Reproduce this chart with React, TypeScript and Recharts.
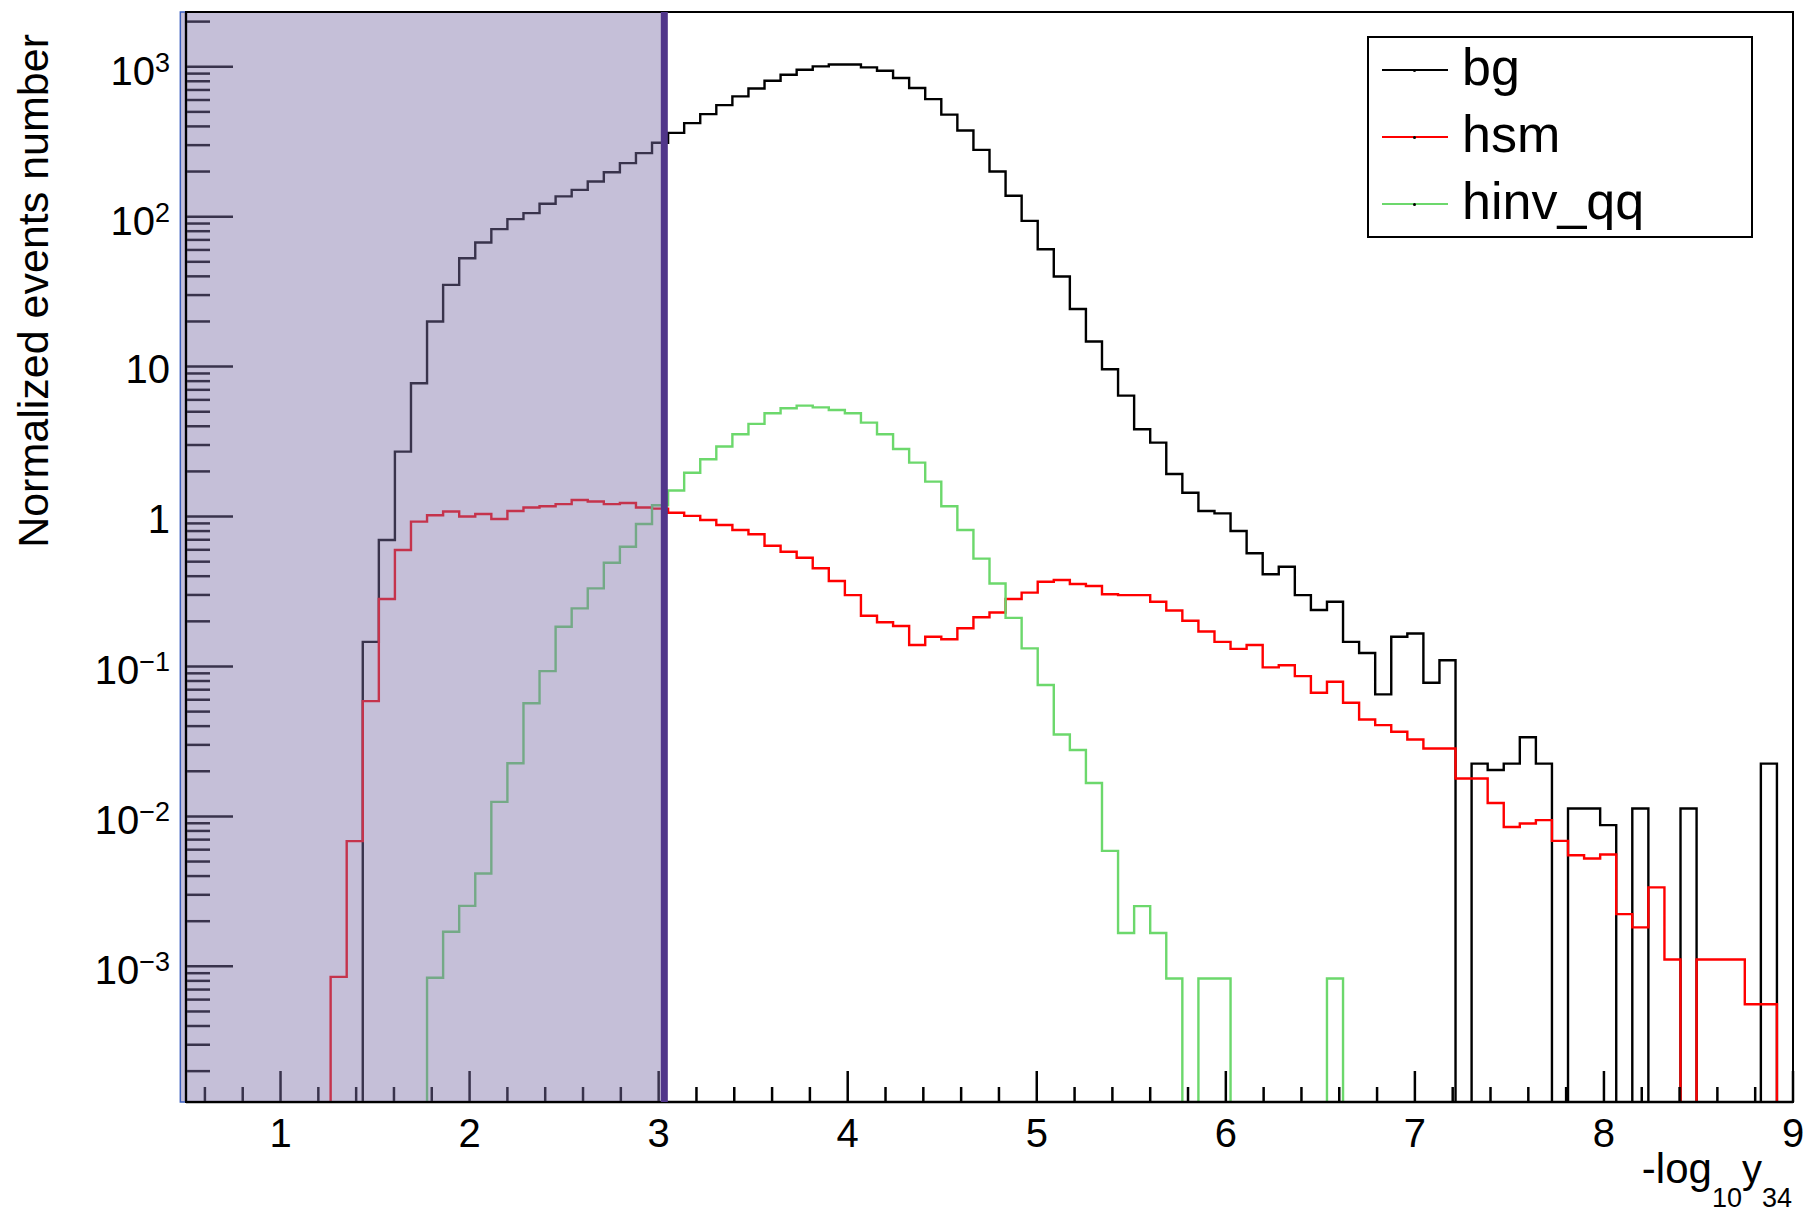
import React from 'react';
import { ComposedChart, Line, XAxis, YAxis, ReferenceArea, ReferenceLine, Legend } from 'recharts';

// ---- histogram definition ----
const X_MIN = 0.5;
const X_MAX = 9;
const BIN_WIDTH = 0.085;
const Y_MIN = 1.245e-4;
const Y_MAX = 2318;
const CUT_X = 3.03;

// ---- bin contents (100 bins of width 0.085 from 0.5 to 9) ----
const BG = [
  0, 0, 0, 0, 0, 0, 0, 0, 0, 0,
  0, 0.146, 0.697, 2.71, 7.74, 20.0, 35.1, 52.8, 67.3, 82.6,
  96.3, 105.6, 122, 136.5, 151, 171.8, 198, 227.6, 265.4, 311,
  362, 421, 483, 555, 634, 716, 807, 885, 955, 1005,
  1036, 1036, 990, 940, 841, 721, 608, 479, 376, 279,
  200, 138, 93.8, 60.7, 39.9, 24.2, 14.7, 9.6, 6.4, 3.82,
  3.11, 1.92, 1.44, 1.09, 1.05, 0.8, 0.569, 0.412, 0.462, 0.299,
  0.238, 0.27, 0.146, 0.123, 0.0651, 0.158, 0.166, 0.0778, 0.11, 0,
  0.0225, 0.0204, 0.0225, 0.0337, 0.0225, 0, 0.0113, 0.0113, 0.00875, 0,
  0.0113, 0, 0, 0.0113, 0, 0, 0, 0, 0.0225, 0,
];

const HSM = [
  0, 0, 0, 0, 0, 0, 0, 0, 0, 0.00085,
  0.00684, 0.0587, 0.282, 0.598, 0.925, 1.02, 1.08, 1.0, 1.04, 0.964,
  1.09, 1.15, 1.17, 1.21, 1.29, 1.26, 1.21, 1.23, 1.15, 1.13,
  1.06, 1.01, 0.949, 0.879, 0.813, 0.762, 0.639, 0.582, 0.531, 0.452,
  0.372, 0.299, 0.218, 0.197, 0.186, 0.139, 0.158, 0.152, 0.18, 0.213,
  0.229, 0.282, 0.311, 0.367, 0.377, 0.355, 0.344, 0.303, 0.299, 0.299,
  0.27, 0.236, 0.202, 0.171, 0.146, 0.131, 0.139, 0.0986, 0.102, 0.0862,
  0.0668, 0.079, 0.0573, 0.0443, 0.0406, 0.0367, 0.0326, 0.0284, 0.0284, 0.0179,
  0.0179, 0.0123, 0.0085, 0.00897, 0.00944, 0.00687, 0.00551, 0.00524, 0.00557, 0.00223,
  0.00182, 0.00336, 0.00111, 0, 0.00111, 0.00111, 0.00111, 0.000558, 0.000558, 0,
];

const HINV_QQ = [
  0, 0, 0, 0, 0, 0, 0, 0, 0, 0,
  0, 0, 0, 0, 0, 0.00084, 0.0017, 0.00253, 0.00416, 0.0125,
  0.0226, 0.0568, 0.0931, 0.184, 0.244, 0.332, 0.492, 0.629, 0.892, 1.19,
  1.49, 1.96, 2.41, 2.93, 3.54, 4.15, 4.89, 5.28, 5.49, 5.35,
  5.14, 4.89, 4.23, 3.54, 2.82, 2.29, 1.71, 1.17, 0.813, 0.524,
  0.358, 0.211, 0.132, 0.0752, 0.0352, 0.0277, 0.0167, 0.00589, 0.00167, 0.00252,
  0.00167, 0.00083, 0, 0.00083, 0.00083, 0, 0, 0, 0, 0,
  0, 0.00083, 0, 0, 0, 0, 0, 0, 0, 0,
  0, 0, 0, 0, 0, 0, 0, 0, 0, 0,
  0, 0, 0, 0, 0, 0, 0, 0, 0, 0,
];

const SERIES_NAMES = ['bg', 'hsm', 'hinv_qq'];
const SERIES_COLORS = ['#000000', '#ff0000', '#6cd86c'];
const SERIES_VALUES = [BG, HSM, HINV_QQ];

// ---- tick labels ----
const X_LABELS = [1, 2, 3, 4, 5, 6, 7, 8, 9];
const X_MINOR_STEP = 0.2;
const Y_DECADES = [-4, -3, -2, -1, 0, 1, 2, 3];
const Y_MINOR_MULT = [2, 3, 4, 5, 6, 7, 8, 9];

const FONT = "'Liberation Sans', Arial, Helvetica, sans-serif";

// build tick lists
const X_TICKS: number[] = [];
for (let k = 1; k <= Math.round((X_MAX - X_MIN) / X_MINOR_STEP); k++) {
  X_TICKS.push(Math.round((X_MIN + 0.1 + (k - 1) * X_MINOR_STEP) * 1000) / 1000);
}
const Y_TICKS: number[] = [];
for (const d of Y_DECADES) {
  const base = Math.pow(10, d);
  if (base >= Y_MIN && base <= Y_MAX) Y_TICKS.push(base);
  for (const m of Y_MINOR_MULT) {
    const v = m * base;
    if (v >= Y_MIN && v <= Y_MAX) Y_TICKS.push(v);
  }
}

// build histogram rows (step edges)
const ZERO_FLOOR = Y_MIN / 100;
const NBINS = BG.length;
const rows = Array.from({ length: NBINS + 1 }, (_, i) => {
  const row: Record<string, number> = { x: Math.round((X_MIN + BIN_WIDTH * i) * 10000) / 10000 };
  SERIES_NAMES.forEach((name, s) => {
    const v = SERIES_VALUES[s][Math.min(i, NBINS - 1)];
    row[name] = v > 0 ? v : ZERO_FLOOR;
  });
  return row;
});

const isMajorX = (v: number) => X_LABELS.some((l) => Math.abs(l - v) < 1e-6);

const renderXTick = (props: any) => {
  const { x, y, payload } = props;
  const v = payload.value as number;
  const major = isMajorX(v);
  return (
    <g>
      <line x1={x} x2={x} y1={y} y2={y - (major ? 31 : 15)} stroke="#000" strokeWidth={2.5} />
      {major && (
        <text x={x} y={y + 45} textAnchor="middle" fontSize={40} fontFamily={FONT} fill="#000">
          {Math.round(v)}
        </text>
      )}
    </g>
  );
};

const renderYTick = (props: any) => {
  const { x, y, payload } = props;
  const v = payload.value as number;
  const e = Math.log10(v);
  const major = Math.abs(e - Math.round(e)) < 1e-6;
  const ex = Math.round(e);
  let label: React.ReactNode = null;
  if (major) {
    if (ex === 0 || ex === 1) {
      label = (
        <text x={x - 16} y={y + 16} textAnchor="end" fontSize={40} fontFamily={FONT} fill="#000">
          {ex === 0 ? '1' : '10'}
        </text>
      );
    } else {
      label = (
        <text x={x - 16} y={y + 18} textAnchor="end" fontSize={40} fontFamily={FONT} fill="#000">
          10
          <tspan dy={-13} fontSize={27}>
            {ex < 0 ? '\u2212' + Math.abs(ex) : String(ex)}
          </tspan>
        </text>
      );
    }
  }
  return (
    <g>
      <line x1={x} x2={x + (major ? 47 : 24)} y1={y} y2={y} stroke="#000" strokeWidth={2.5} />
      {label}
    </g>
  );
};

const renderXTitle = () => (
  <text x={1792} y={1183} textAnchor="end" fontSize={42} fontFamily={FONT} fill="#000">
    -log
    <tspan dy={24} fontSize={27}>10</tspan>
    <tspan dy={-24} fontSize={40}>y</tspan>
    <tspan dy={24} fontSize={27}>34</tspan>
  </text>
);

const renderYTitle = () => (
  <text
    x={0}
    y={0}
    transform="translate(48,34) rotate(-90)"
    textAnchor="end"
    fontSize={43}
    fontFamily={FONT}
    fill="#000"
  >
    Normalized events number
  </text>
);

const renderLegend = (props: any) => {
  const raw = (props && props.payload) || [];
  const items = [...raw].sort(
    (a: any, b: any) => SERIES_NAMES.indexOf(a.value) - SERIES_NAMES.indexOf(b.value)
  );
  return (
    <div
      style={{
        position: 'relative',
        width: 386,
        height: 202,
        boxSizing: 'border-box',
        border: '2px solid #000',
        background: '#fff',
        fontFamily: FONT,
      }}
    >
      {items.map((it: any, k: number) => {
        const cy = 32 + 67 * k;
        return (
          <React.Fragment key={it.value}>
            <div style={{ position: 'absolute', left: 13, top: cy - 1.25, width: 66, height: 2.5, background: it.color }} />
            <div style={{ position: 'absolute', left: 44, top: cy - 1.5, width: 3, height: 3, background: '#000', borderRadius: 2 }} />
            <div
              style={{
                position: 'absolute',
                left: 93,
                top: cy - 33,
                fontSize: 52,
                lineHeight: '60px',
                color: '#000',
                whiteSpace: 'nowrap',
              }}
            >
              {it.value}
            </div>
          </React.Fragment>
        );
      })}
    </div>
  );
};

const CHART_MARGIN = { top: 12, right: 19, bottom: 0, left: 0 };

export default function App() {
  return (
    <div style={{ position: 'absolute', left: 0, top: 0, width: 1812, height: 1213, background: '#fff' }}>
      <div style={{ position: 'absolute', left: 0, top: 0 }}>
        <ComposedChart width={1812} height={1213} data={rows} margin={CHART_MARGIN}>
          <XAxis
            dataKey="x"
            type="number"
            domain={[X_MIN, X_MAX]}
            ticks={X_TICKS}
            interval={0}
            tickSize={0}
            tickMargin={0}
            tickLine={false}
            tick={renderXTick}
            height={111}
            axisLine={{ stroke: '#000', strokeWidth: 2.5 }}
            allowDataOverflow
            label={renderXTitle}
          />
          <YAxis
            type="number"
            scale="log"
            domain={[Y_MIN, Y_MAX]}
            allowDataOverflow
            ticks={Y_TICKS}
            interval={0}
            tickSize={0}
            tickMargin={0}
            tickLine={false}
            tick={renderYTick}
            width={186}
            axisLine={{ stroke: '#000', strokeWidth: 2.5 }}
            label={renderYTitle}
          />
          {SERIES_NAMES.map((name, s) => (
            <Line
              key={name}
              type="stepAfter"
              dataKey={name}
              name={name}
              stroke={SERIES_COLORS[s]}
              strokeWidth={2.4}
              dot={false}
              activeDot={false}
              isAnimationActive={false}
            />
          ))}
          <Legend
            layout="vertical"
            align="center"
            verticalAlign="middle"
            wrapperStyle={{ left: 1367, top: 36, width: 386, height: 202 }}
            content={renderLegend}
          />
        </ComposedChart>
      </div>
      {/* overlay chart: translucent cut region drawn above the histograms */}
      <div style={{ position: 'absolute', left: 0, top: 0, pointerEvents: 'none' }}>
        <ComposedChart width={1812} height={1213} data={rows} margin={CHART_MARGIN} style={{ background: 'transparent' }}>
          <XAxis
            dataKey="x"
            type="number"
            domain={[X_MIN, X_MAX]}
            ticks={X_TICKS}
            tick={false}
            tickLine={false}
            axisLine={false}
            height={111}
            allowDataOverflow
          />
          <YAxis
            type="number"
            scale="log"
            domain={[Y_MIN, Y_MAX]}
            allowDataOverflow
            ticks={Y_TICKS}
            tick={false}
            tickLine={false}
            axisLine={false}
            width={186}
          />
          <ReferenceArea
            x1={0.47}
            x2={CUT_X}
            y1={Y_MIN}
            y2={Y_MAX}
            fill="#7e70a8"
            fillOpacity={0.45}
            stroke="#3b5fc0"
            strokeWidth={1.5}
            ifOverflow="visible"
          />
          <ReferenceLine x={CUT_X} stroke="#50358a" strokeWidth={7} ifOverflow="visible" />
          <ReferenceArea
            x1={X_MIN}
            x2={X_MAX}
            y1={Y_MIN}
            y2={Y_MAX}
            fill="none"
            fillOpacity={0}
            stroke="#000"
            strokeWidth={2}
            ifOverflow="visible"
          />
        </ComposedChart>
      </div>
    </div>
  );
}
